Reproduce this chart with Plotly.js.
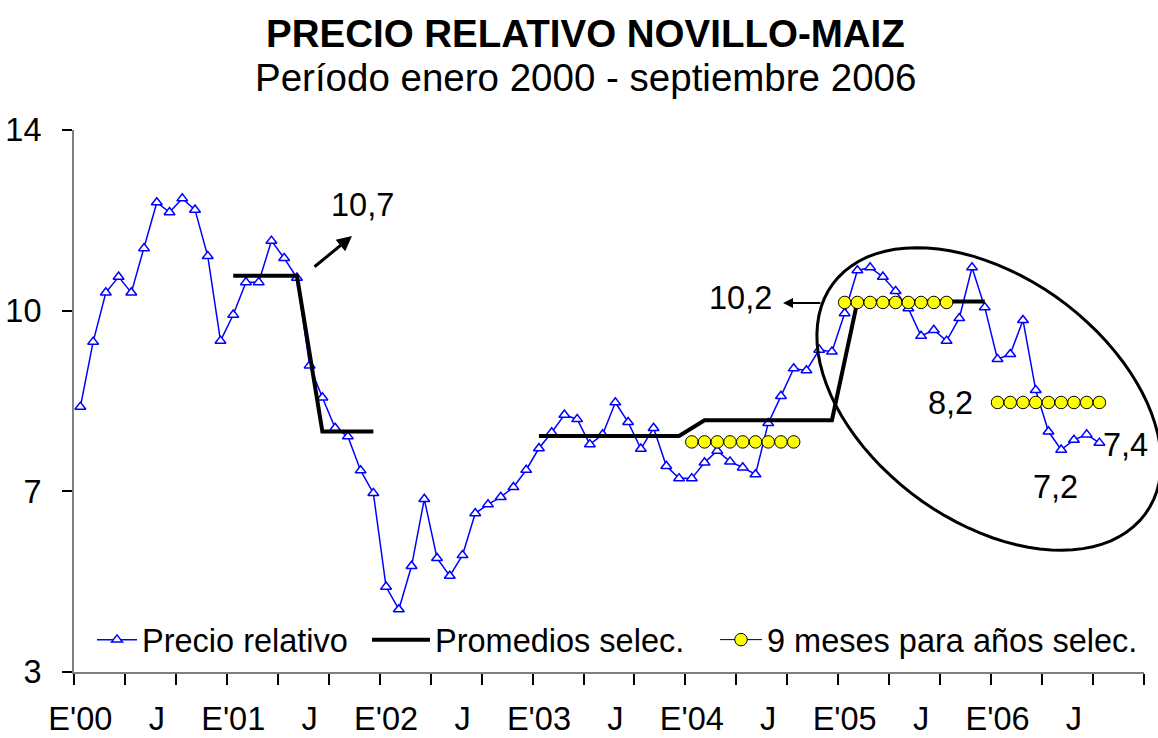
<!DOCTYPE html>
<html>
<head>
<meta charset="utf-8">
<script src="https://cdn.plot.ly/plotly-3.0.1.min.js"></script>
<style>
  body { margin: 0; background: #fff; }
  #plot { width: 1158px; height: 738px; }
</style>
</head>
<body>
<div id="plot"></div>
<script>
// months: Jan 2000 (0) .. Sep 2006 (80)
const precio = [8.38, 9.70, 10.70, 11.02, 10.70, 11.60, 12.53, 12.33, 12.61, 12.38,
  11.44, 9.72, 10.25, 10.91, 10.91, 11.75, 11.40, 11.00, 9.22, 8.57,
  7.95, 7.78, 7.09, 6.63, 4.73, 4.27, 5.15, 6.51, 5.31, 4.95,
  5.37, 6.22, 6.40, 6.55, 6.75, 7.10, 7.54, 7.86, 8.22, 8.13,
  7.62, 7.82, 8.47, 8.07, 7.53, 7.95, 7.18, 6.93, 6.93, 7.25,
  7.49, 7.27, 7.15, 7.01, 8.05, 8.60, 9.16, 9.12, 9.54, 9.50,
  10.28, 11.15, 11.21, 11.02, 10.73, 10.38, 9.82, 9.94, 9.72, 10.18,
  11.21, 10.40, 9.35, 9.45, 10.14, 8.72, 7.88, 7.51, 7.71, 7.82, 7.65];

const N = null;
// promedios selec. (one value per month, null = none)
const promedios = [N,N,N,N,N,N,N,N,N,N,N,N,
  11.04,11.04,11.04,11.04,11.04,11.04, N, 7.88,7.88,7.88,7.88,7.88,
  N,N,N,N,N,N,N,N,N,N,N,N,
  7.79,7.79,7.79,7.79,7.79,7.79,7.79,7.79,7.79,7.79,7.79,7.79,
  N, 8.11,8.11,8.11,8.11,8.11,8.11,8.11,8.11,8.11,8.11,8.11,
  N, 10.52,10.52,10.52,10.52,10.52,10.52,10.52,10.52,10.52,10.52,10.52,
  N,N,N,N,N,N,N,N,N];

// 9 meses para años selec.
const nueveMeses = [N,N,N,N,N,N,N,N,N,N,N,N, N,N,N,N,N,N,N,N,N,N,N,N,
  N,N,N,N,N,N,N,N,N,N,N,N, N,N,N,N,N,N,N,N,N,N,N,N,
  7.67,7.67,7.67,7.67,7.67,7.67,7.67,7.67,7.67, N,N,N,
  10.50,10.50,10.50,10.50,10.50,10.50,10.50,10.50,10.50, N,N,N,
  8.47,8.47,8.47,8.47,8.47,8.47,8.47,8.47,8.47];

const tickLabels = ["E'00","J","E'01","J","E'02","J","E'03","J","E'04","J","E'05","J","E'06","J"];
const yTickVals = [3, 3 + 11/3, 3 + 22/3, 14];
const yTickText = ["3", "7", "10", "14"];

const months = precio.map((v, i) => i);

// promedios: skip single-month gaps (line joins the steps), break on long gaps
let promX = [], promY = [], last = null;
promedios.forEach(function (v, i) {
  if (v === null) return;
  if (last !== null && i - last > 2) { promX.push(null); promY.push(null); }
  promX.push(i); promY.push(v);
  last = i;
});

const FONT = "Liberation Sans, Arial, sans-serif";
const FS = 32.5;

// plot area in pixels
const L = 74, R = 1144, T = 130, B = 672;
function px(x) { return (x - L) / (R - L); }
function py(y) { return (B - y) / (B - T); }

let trace1 = {
  x: months, y: precio,
  type: "scatter", mode: "lines+markers",
  name: "Precio relativo", legend: "legend",
  line: {color: "#0000ff", width: 1.5},
  marker: {symbol: "triangle-up", size: 9.5, color: "#ffffff", line: {color: "#0000ff", width: 1.5}}
};

let trace2 = {
  x: promX, y: promY,
  type: "scatter", mode: "lines",
  name: "Promedios selec.", legend: "legend2",
  line: {color: "#000000", width: 4},
  connectgaps: false
};

let trace3 = {
  x: months, y: nueveMeses,
  type: "scatter", mode: "lines+markers",
  name: "9 meses para años selec.", legend: "legend3",
  line: {color: "#000000", width: 1},
  marker: {symbol: "circle", size: 12.5, color: "#ffff00", line: {color: "#000000", width: 1}},
  connectgaps: false
};

// tilted ellipse round the 2005-2006 values
function ellipsePath(cx, cy, a, b, deg) {
  const phi = deg * Math.PI / 180;
  let d = "";
  for (let k = 0; k <= 90; k++) {
    const t = k / 90 * 2 * Math.PI;
    const x = cx + a * Math.cos(t) * Math.cos(phi) - b * Math.sin(t) * Math.sin(phi);
    const y = cy + a * Math.cos(t) * Math.sin(phi) + b * Math.sin(t) * Math.cos(phi);
    d += (k === 0 ? "M" : "L") + px(x).toFixed(4) + "," + py(y).toFixed(4);
  }
  return d + "Z";
}

function label(text, x, y, size) {
  return {text: text, x: px(x), y: py(y), xref: "paper", yref: "paper",
          xanchor: "center", yanchor: "middle",
          showarrow: false, font: {size: size || FS, color: "#000"}};
}

function legendAt(x, w) {
  return {orientation: "h", x: px(x), xanchor: "left", y: py(640), yanchor: "middle",
          itemwidth: w, bgcolor: "rgba(0,0,0,0)", borderwidth: 0,
          font: {size: FS, color: "#000"}};
}

let layout = {
  width: 1158, height: 738,
  margin: {l: L, r: 1158 - R, t: T, b: 738 - B},
  paper_bgcolor: "#fff", plot_bgcolor: "#fff",
  font: {family: FONT, color: "#000", size: FS},
  xaxis: {
    range: [-0.5, 83.5],
    tickmode: "array",
    tickvals: tickLabels.map((t, i) => i * 6),
    ticktext: tickLabels,
    ticks: "",
    ticklabelstandoff: 17,
    tickfont: {size: FS},
    showline: true, linecolor: "#808080", linewidth: 2,
    showgrid: false, zeroline: false,
    minor: {tickmode: "linear", tick0: -0.5, dtick: 4, ticks: "outside", ticklen: 11, tickcolor: "#000", tickwidth: 1.5, showgrid: false}
  },
  yaxis: {
    range: [3, 14],
    tickmode: "array",
    tickvals: yTickVals,
    ticktext: yTickText,
    ticks: "outside", ticklen: 10, tickcolor: "#000", tickwidth: 1.5,
    ticklabelstandoff: 14,
    tickfont: {size: FS},
    showline: true, linecolor: "#808080", linewidth: 2,
    showgrid: false, zeroline: false
  },
  showlegend: true,
  legend: legendAt(92, 40),
  legend2: legendAt(367, 58),
  legend3: legendAt(715, 42),
  shapes: [{
    type: "path", xref: "paper", yref: "paper",
    path: ellipsePath(989, 399, 194, 122, 36.4),
    line: {color: "#000", width: 3}
  }],
  annotations: [
    label("<b>PRECIO RELATIVO NOVILLO-MAIZ</b>", 585, 33, 38.5),
    label("Período enero 2000 - septiembre 2006", 585, 77, 38.5),
    label("10,7", 362, 205),
    label("10,2", 740, 298),
    label("8,2", 950, 403),
    label("7,4", 1125, 445),
    label("7,2", 1055, 487),
    {text: "", x: px(352), y: py(236), xref: "paper", yref: "paper",
     showarrow: true, ax: -39, ay: 32, arrowhead: 2, arrowsize: 1, arrowwidth: 3, arrowcolor: "#000", standoff: 0},
    {text: "", x: px(783), y: py(303), xref: "paper", yref: "paper",
     showarrow: true, ax: 39, ay: 0, arrowhead: 2, arrowsize: 1, arrowwidth: 2, arrowcolor: "#000", standoff: 0}
  ]
};

Plotly.newPlot("plot", [trace1, trace2, trace3], layout, {displayModeBar: false});
</script>
</body>
</html>
